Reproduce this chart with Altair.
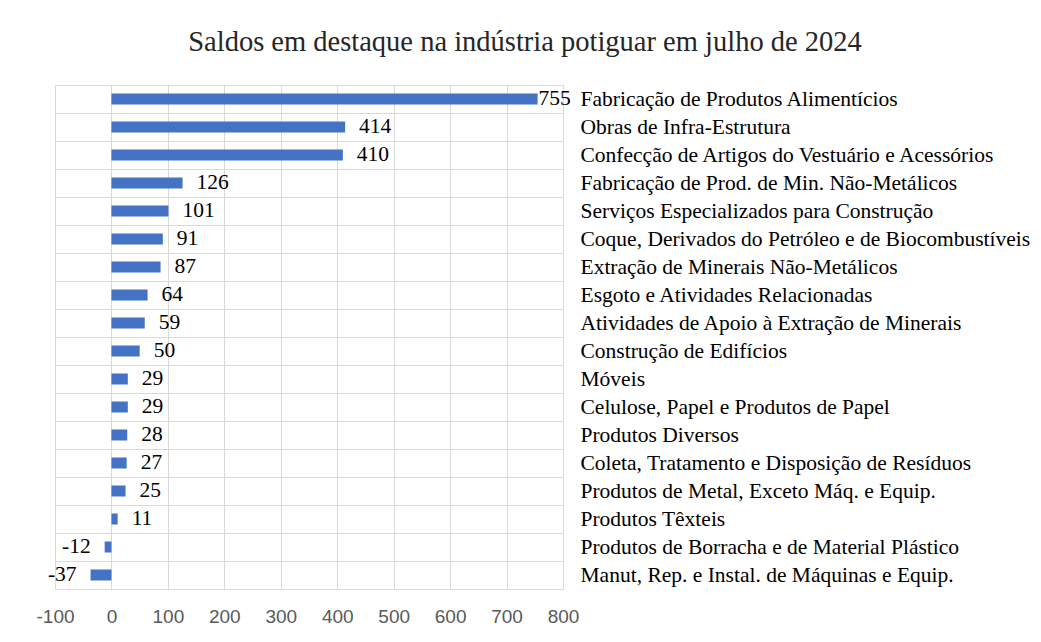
import altair as alt
import pandas as pd

categories = [
    "Fabricação de Produtos Alimentícios",
    "Obras de Infra-Estrutura",
    "Confecção de Artigos do Vestuário e Acessórios",
    "Fabricação de Prod. de Min. Não-Metálicos",
    "Serviços Especializados para Construção",
    "Coque, Derivados do Petróleo e de Biocombustíveis",
    "Extração de Minerais Não-Metálicos",
    "Esgoto e Atividades Relacionadas",
    "Atividades de Apoio à Extração de Minerais",
    "Construção de Edifícios",
    "Móveis",
    "Celulose, Papel e Produtos de Papel",
    "Produtos Diversos",
    "Coleta, Tratamento e Disposição de Resíduos",
    "Produtos de Metal, Exceto Máq. e Equip.",
    "\u00a0Produtos Têxteis",
    "Produtos de Borracha e de Material Plástico",
    "Manut, Rep. e Instal. de Máquinas e Equip.",
]
values = [755, 414, 410, 126, 101, 91, 87, 64, 59, 50, 29, 29, 28, 27, 25, 11, -12, -37]
x_ticks = [-100, 0, 100, 200, 300, 400, 500, 600, 700, 800]

df = pd.DataFrame({"cat": categories, "val": values})

FONT = "Liberation Serif"
FS = 21.5
W, H = 508, 504

y = alt.Y(
    "cat:N",
    sort=categories,
    scale=alt.Scale(paddingInner=0, paddingOuter=0),
    axis=alt.Axis(
        orient="right",
        title=None,
        domain=False,
        ticks=False,
        grid=True,
        tickBand="extent",
        gridColor="#d9d9d9",
        labelAlign="left",
        labelPadding=17,
        labelFont=FONT,
        labelFontSize=FS,
        labelColor="#000000",
        labelLimit=600,
    ),
)
x = alt.X(
    "val:Q",
    scale=alt.Scale(domain=[-100, 800], nice=False),
    axis=alt.Axis(
        values=x_ticks,
        title=None,
        domain=False,
        ticks=False,
        grid=True,
        gridColor="#d9d9d9",
        labelFont="Liberation Sans",
        labelFontSize=19,
        labelColor="#595959",
        labelPadding=18,
        labelFlush=False,
        labelOverlap=False,
        labelExpr="'' + datum.value",
    ),
)

base = alt.Chart(df).transform_calculate(lbl="'' + datum.val")
bars = base.mark_bar(color="#4472C4", size=11).encode(x=x, y=y)

txt_style = dict(font=FONT, fontSize=FS, color="#000000", baseline="middle")
yy = alt.Y("cat:N", sort=categories)
pos = base.transform_filter("datum.val >= 0 && datum.val < 700").mark_text(
    align="left", dx=14, **txt_style
).encode(x="val:Q", y=yy, text="lbl:N")
big = base.transform_filter("datum.val >= 700").mark_text(
    align="left", dx=1, **txt_style
).encode(x="val:Q", y=yy, text="lbl:N")
neg = base.transform_filter("datum.val < 0").mark_text(
    align="right", dx=-14, **txt_style
).encode(x="val:Q", y=yy, text="lbl:N")

chart = (
    alt.layer(bars, pos, big, neg)
    .properties(
        width=W,
        height=H,
        title=alt.TitleParams(
            "Saldos em destaque na indústria potiguar em julho de 2024",
            font=FONT,
            fontSize=28.5,
            fontWeight="normal",
            color="#262626",
            anchor="middle",
            dx=216,
            offset=18,
        ),
        autosize=alt.AutoSizeParams(type="none"),
        padding={"left": 47, "top": 77, "right": 470, "bottom": 45},
    )
    .configure_view(stroke="#d9d9d9")
    .configure(background="white")
)

chart.save("out.html", embed_options={"renderer": "svg", "actions": False})
